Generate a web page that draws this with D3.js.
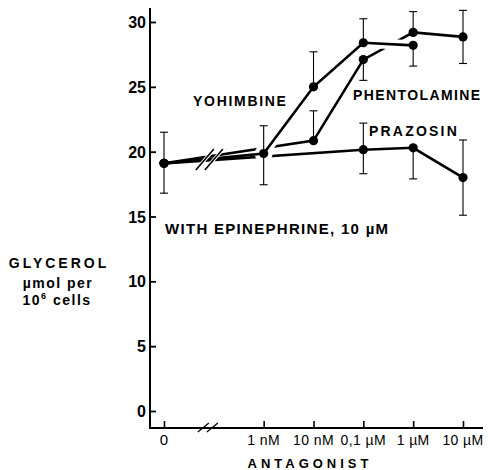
<!DOCTYPE html>
<html><head><meta charset="utf-8">
<script src="https://cdn.jsdelivr.net/npm/d3@7"></script>
<style>
body{margin:0;background:#fff;}
svg{display:block;font-family:"Liberation Sans",Arial,Helvetica,sans-serif;}
</style></head>
<body>
<svg id="c" width="493" height="470"></svg>
<script>
// ---- data ----
const xLabels = ["0","1 nM","10 nM","0,1 µM","1 µM","10 µM"];
const xIndex  = [0, 2, 3, 4, 5, 6];
const yTicks  = [0, 5, 10, 15, 20, 25, 30];

const yohX = [0, 2, 3, 4, 5];
const yohY = [19.1, 19.85, 25.0, 28.4, 28.2];
const phenX = [0, 3, 4, 5, 6];
const phenY = [19.1, 20.85, 27.1, 29.2, 28.85];
const prazX = [0, 4, 5, 6];
const prazY = [19.1, 20.15, 20.3, 18.0];

// error bars: x index, low, high
const errX  = [0, 2, 3, 3, 4, 4, 4, 5, 5, 5, 6, 6];
const errLo = [16.8, 17.45, 25.0, 20.85, 28.4, 25.5, 18.3, 29.2, 26.6, 17.9, 26.8, 15.1];
const errHi = [21.5, 22.0, 27.7, 23.15, 30.25, 27.1, 22.2, 30.8, 28.2, 20.3, 30.9, 20.9];

const breakIdx = 0.9;

// ---- scales ----
const svg = d3.select("#c");
const x = d3.scaleLinear().domain([0, 6]).range([164, 463]);
const y = d3.scaleLinear().domain([0, 30]).range([411, 22]);
const axX = 150, axY = 428;

const line = d3.line().x(d => x(d[0])).y(d => y(d[1]));
const pts = (xs, ys) => xs.map((v, i) => [v, ys[i]]);

// ---- axes ----
const g = svg.append("g");
g.append("line").attr("x1", axX).attr("x2", axX).attr("y1", 8).attr("y2", axY + 1)
  .attr("stroke", "#000").attr("stroke-width", 2);
g.append("line").attr("x1", axX - 1).attr("x2", 483).attr("y1", axY).attr("y2", axY)
  .attr("stroke", "#000").attr("stroke-width", 2);

const yAxis = d3.axisRight(y).tickValues(yTicks).tickSize(6).tickFormat("");
svg.append("g").attr("transform", `translate(${axX},0)`).call(yAxis)
  .call(s => s.select(".domain").remove())
  .call(s => s.selectAll("line").attr("stroke", "#000").attr("stroke-width", 1.8));
svg.append("g").selectAll("text").data(yTicks).join("text")
  .attr("x", axX - 4).attr("y", d => y(d) + 6)
  .attr("text-anchor", "end").attr("font-size", 16).attr("font-weight", "bold")
  .text(d => d);

const xAxis = d3.axisTop(x).tickValues(xIndex).tickSize(7).tickFormat("");
svg.append("g").attr("transform", `translate(0,${axY})`).call(xAxis)
  .call(s => s.select(".domain").remove())
  .call(s => s.selectAll("line").attr("stroke", "#000").attr("stroke-width", 1.6));
svg.append("g").selectAll("text").data(xIndex).join("text")
  .attr("x", d => x(d)).attr("y", 445)
  .attr("text-anchor", "middle").attr("font-size", (d, i) => i === 0 ? 15 : 14)
  .attr("letter-spacing", (d, i) => i === 0 ? 0 : 0.4)
  .text((d, i) => xLabels[i]);

// axis break
const bx = x(breakIdx);
[-5, 4].forEach(o => {
  svg.append("line").attr("x1", bx + o - 6).attr("y1", axY + 4).attr("x2", bx + o + 5).attr("y2", axY - 5)
    .attr("stroke", "#000").attr("stroke-width", 1.3);
});

// ---- data lines ----
const lines = svg.append("g").attr("fill", "none").attr("stroke", "#000").attr("stroke-width", 2.6);
lines.append("path").attr("d", line(pts(phenX, phenY)));
lines.append("path").attr("d", line(pts(prazX, prazY)));
// white halo around 1 nM point and the later yohimbine path (hand-drawn gaps)
svg.append("circle").attr("cx", x(yohX[1])).attr("cy", y(yohY[1])).attr("r", 9).attr("fill", "#fff");
svg.append("path").attr("d", line(pts(yohX.slice(1), yohY.slice(1))))
  .attr("fill", "none").attr("stroke", "#fff").attr("stroke-width", 10);
svg.append("path").attr("d", line(pts(yohX, yohY)))
  .attr("fill", "none").attr("stroke", "#000").attr("stroke-width", 2.6);

// break on data lines
const by = y(19.35);
[-4, 5].forEach(o => {
  svg.append("line").attr("x1", bx + o - 10).attr("y1", by + 11).attr("x2", bx + o + 10).attr("y2", by - 12)
    .attr("stroke", "#fff").attr("stroke-width", 3.5);
});
[-4, 5].forEach(o => {
  svg.append("line").attr("x1", bx + o - 9).attr("y1", by + 10).attr("x2", bx + o + 9).attr("y2", by - 11)
    .attr("stroke", "#000").attr("stroke-width", 1.6);
});

// ---- error bars ----
const eb = svg.append("g").attr("stroke", "#000").attr("stroke-width", 1.1);
const allPts = [...pts(yohX, yohY), ...pts(phenX, phenY), ...pts(prazX, prazY)];
const isPoint = (xi, v) => allPts.some(p => p[0] === xi && Math.abs(p[1] - v) < 0.01);
errX.forEach((xi, i) => {
  const cx = x(xi);
  eb.append("line").attr("x1", cx).attr("x2", cx).attr("y1", y(errLo[i])).attr("y2", y(errHi[i]));
  [errLo[i], errHi[i]].forEach(v => {
    if (!isPoint(xi, v)) {
      eb.append("line").attr("x1", cx - 4).attr("x2", cx + 4).attr("y1", y(v)).attr("y2", y(v));
    }
  });
});

// ---- markers ----
svg.append("g").selectAll("circle").data(allPts).join("circle")
  .attr("cx", d => x(d[0])).attr("cy", d => y(d[1])).attr("r", 4.6).attr("fill", "#000");

// ---- labels ----
const lab = (t, xx, yy, fs, ls, anchor) => svg.append("text").attr("x", xx).attr("y", yy)
  .attr("font-size", fs).attr("font-weight", "bold").attr("letter-spacing", ls)
  .attr("text-anchor", anchor || "start").text(t);

lab("YOHIMBINE", 193, 106, 14, 1.7);
lab("PHENTOLAMINE", 353, 100, 14, 1.4);
lab("PRAZOSIN", 369, 136, 14, 2.2);
lab("WITH EPINEPHRINE, 10 µM", 165, 234, 15, 1.3);
lab("ANTAGONIST", 310, 468, 13, 4, "middle");

lab("GLYCEROL", 59, 268, 14, 3, "middle");
lab("µmol per", 58, 288, 14, 1.5, "middle");
const t3 = svg.append("text").attr("x", 57).attr("y", 305).attr("font-size", 14)
  .attr("font-weight", "bold").attr("letter-spacing", 1.5).attr("text-anchor", "middle");
t3.append("tspan").text("10");
t3.append("tspan").attr("dy", -6).attr("font-size", 9).text("6");
t3.append("tspan").attr("dy", 6).text(" cells");
</script>
</body></html>
